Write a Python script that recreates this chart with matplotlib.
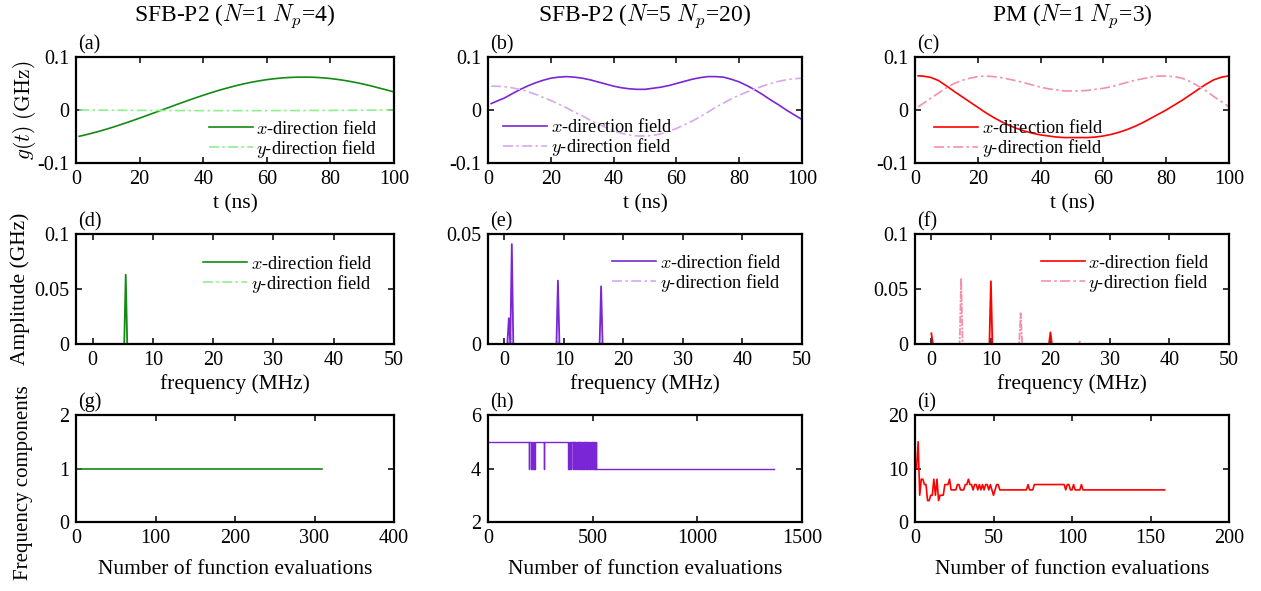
import numpy as np
import matplotlib
matplotlib.use('Agg')
import matplotlib.pyplot as plt

plt.rcParams['font.family'] = 'serif'
plt.rcParams['font.serif'] = ['Liberation Serif', 'DejaVu Serif']
plt.rcParams['mathtext.fontset'] = 'cm'
plt.rcParams['font.size'] = 14.5

# ---------------- data ----------------
# time traces (t in ns, g in GHz)
t_ns = [1, 2.5, 5, 7.5, 10, 12.5, 15, 17.5, 20, 22.5, 25, 27.5, 30, 32.5, 35, 37.5, 40, 42.5, 45, 47.5,
        50, 52.5, 55, 57.5, 60, 62.5, 65, 67.5, 70, 72.5, 75, 77.5, 80, 82.5, 85, 87.5, 90, 92.5, 95,
        97.5, 100]
a_x = [-0.0496, -0.0476, -0.0438, -0.0398, -0.0354, -0.0307, -0.0257, -0.0206, -0.0153, -0.0099,
       -0.0044, 0.0011, 0.0066, 0.0121, 0.0175, 0.0227, 0.0278, 0.0326, 0.0372, 0.0414, 0.0454,
       0.0490, 0.0522, 0.0549, 0.0573, 0.0591, 0.0606, 0.0615, 0.0620, 0.0620, 0.0617, 0.0607,
       0.0594, 0.0575, 0.0552, 0.0525, 0.0494, 0.0459, 0.0420, 0.0381, 0.0340]
a_y = [0.0, -0.0001, -0.0002, -0.0003, -0.0004, -0.0005, -0.0006, -0.0007, -0.0008, -0.0008,
       -0.0009, -0.0010, -0.0010, -0.0011, -0.0011, -0.0012, -0.0012, -0.0012, -0.0012, -0.0012,
       -0.0012, -0.0012, -0.0012, -0.0012, -0.0012, -0.0011, -0.0011, -0.0010, -0.0010, -0.0009,
       -0.0009, -0.0008, -0.0008, -0.0007, -0.0006, -0.0005, -0.0004, -0.0003, -0.0002, -0.0001, 0.0]
b_x = [0.012, 0.016, 0.022, 0.030, 0.038, 0.045, 0.051, 0.056, 0.060, 0.062, 0.063, 0.062, 0.060,
       0.057, 0.053, 0.049, 0.045, 0.042, 0.040, 0.039, 0.039, 0.041, 0.043, 0.046, 0.050, 0.054,
       0.058, 0.061, 0.063, 0.063, 0.062, 0.058, 0.053, 0.046, 0.038, 0.029, 0.019, 0.010, 0.000,
       -0.009, -0.018]
b_y = [0.045, 0.045, 0.044, 0.042, 0.039, 0.035, 0.030, 0.024, 0.018, 0.011, 0.004, -0.004, -0.011,
       -0.019, -0.026, -0.033, -0.039, -0.044, -0.047, -0.049, -0.049, -0.048, -0.045, -0.040,
       -0.035, -0.028, -0.021, -0.013, -0.004, 0.005, 0.013, 0.021, 0.028, 0.034, 0.040, 0.045,
       0.050, 0.054, 0.057, 0.059, 0.060]
c_x = [0.0645, 0.0640, 0.0615, 0.0555, 0.0455, 0.035, 0.025, 0.015, 0.005, -0.005, -0.014, -0.022,
       -0.029, -0.035, -0.040, -0.044, -0.047, -0.049, -0.051, -0.052, -0.052, -0.052, -0.052,
       -0.051, -0.049, -0.046, -0.042, -0.037, -0.031, -0.024, -0.016, -0.008, 0.000, 0.009, 0.018,
       0.028, 0.038, 0.048, 0.0565, 0.0618, 0.0645]
c_y = [0.006, 0.012, 0.022, 0.032, 0.042, 0.050, 0.056, 0.060, 0.063, 0.064, 0.063, 0.061, 0.058,
       0.055, 0.051, 0.047, 0.043, 0.040, 0.038, 0.036, 0.036, 0.036, 0.037, 0.039, 0.041, 0.044,
       0.048, 0.052, 0.056, 0.059, 0.062, 0.064, 0.064, 0.063, 0.060, 0.054, 0.046, 0.037, 0.026,
       0.016, 0.006]

# spectra (frequency in MHz, amplitude in GHz), non-zero bins only
freq_max = 25.0
freq_step = 0.25
d_x_f, d_x_amp = [5.5], [0.063]
d_y_f, d_y_amp = [], []
e_x_f, e_x_amp = [0.75, 1.25, 9.0, 16.25], [0.0117, 0.0454, 0.0288, 0.0262]
e_y_f, e_y_amp = [1.0, 9.0, 16.5], [0.0043, 0.0010, 0.0010]
f_x_f, f_x_amp = [0.0, 10.0, 20.0], [0.0097, 0.057, 0.0106]
f_y_f, f_y_amp = [5.0, 15.0, 25.0], [0.060, 0.028, 0.003]

# number of frequency components vs function evaluations
g_evals = [1, 309]
g_count = [1, 1]

h_start_count = 5
h_dip_start = [194, 206, 213, 216, 219, 222, 266, 380, 384, 388, 392, 396, 405, 410, 414, 421, 425,
               429, 434, 438, 442, 446, 451, 457, 461, 466, 470, 474, 478, 484, 488, 492, 497, 502,
               507, 512, 518]
h_dip_end = [196, 208, 215, 218, 221, 224, 268, 382, 386, 390, 394, 398, 407, 412, 416, 423, 427,
             431, 436, 440, 444, 448, 453, 459, 463, 468, 472, 476, 480, 486, 490, 494, 499, 504,
             509, 514, 1365]

i_evals = [1, 2, 3, 4, 5, 6, 7, 8, 9, 10, 11, 12, 13, 14, 15, 16, 17, 18, 19, 20, 21, 22, 23, 24, 25,
           26, 27, 28, 29, 30, 31, 32, 33, 34, 35, 36, 37, 38, 39, 40, 41, 42, 43, 44, 45, 46, 47, 48,
           49, 50, 51, 52, 53, 54, 71, 72, 73, 75, 76, 95, 96, 97, 98, 99, 100, 101, 102, 105, 106,
           107, 159]
i_count = [10, 15, 5, 8, 8, 7, 7, 4, 4, 5, 5, 8, 5, 8, 4, 5, 5, 5, 7, 7, 7, 8, 6, 6, 6,
           6, 7, 7, 6, 6, 6, 7, 7, 8, 7, 7, 6, 7, 7, 6, 7, 6, 7, 6, 7, 7, 6, 7,
           6, 5, 6, 7, 7, 6, 6, 7, 6, 6, 7, 7, 6, 7, 7, 6, 6, 7, 6, 6, 7,
           6, 6]

# ---------------- colours ----------------
green, lgreen = '#138a13', '#8fef8f'
purple, lpurple = '#7b26d6', '#d6a8f2'
red, pink = '#ff0000', '#f590ab'


def spectrum(peak_f, peak_amp):
    f = np.arange(0, freq_max + freq_step / 2, freq_step)
    amp = np.zeros_like(f)
    for pf, pa in zip(peak_f, peak_amp):
        amp[np.argmin(np.abs(f - pf))] = pa
    return f, amp


# ---------------- figure ----------------
W, H = 1261.0, 591.0
fig = plt.figure(figsize=(W / 100, H / 100), dpi=100)

cols = [(76, 394), (488, 802), (915, 1229)]
rows = [(57, 163), (234, 344), (415, 522)]


def make_ax(r, c):
    l, rr = cols[c]
    t, b = rows[r]
    ax = fig.add_axes([l / W, 1 - b / H, (rr - l) / W, (b - t) / H])
    for s in ax.spines.values():
        s.set_linewidth(1.6)
    ax.tick_params(direction='in', top=True, right=True, length=4, width=1.1, labelsize=14.5, pad=5)
    return ax


axes = [[make_ax(r, c) for c in range(3)] for r in range(3)]
letters = 'abcdefghi'
for r in range(3):
    for c in range(3):
        axes[r][c].annotate('(%s)' % letters[3 * r + c], xy=(0, 1), xycoords='axes fraction',
                            xytext=(2, 8), textcoords='offset pixels', va='baseline', ha='left',
                            fontsize=14.5)

lab_x = r'$x$-direction field'
lab_y = r'$y$-direction field'
leg_kw = dict(frameon=False, fontsize=13.2, handlelength=2.4, handletextpad=0.2,
              labelspacing=0.0, borderpad=0, borderaxespad=0)
dash = (0, (6, 2, 1.5, 2))
dash_fine = (0, (4, 0.8, 1.2, 0.8))

# row 1: time traces
for ax, xs, ys, cx, cy in [(axes[0][0], a_x, a_y, green, lgreen),
                           (axes[0][1], b_x, b_y, purple, lpurple),
                           (axes[0][2], c_x, c_y, red, pink)]:
    ax.plot(t_ns, xs, color=cx, lw=1.2, label=lab_x)
    ax.plot(t_ns, ys, color=cy, lw=1.2, ls=dash, label=lab_y)
    ax.set_xlim(0, 100)
    ax.set_ylim(-0.1, 0.1)
    ax.set_xticks([0, 20, 40, 60, 80, 100])
    ax.set_yticks([-0.1, 0, 0.1])
    ax.set_yticklabels(['-0.1', '0', '0.1'])
    ax.set_xlabel('t (ns)', fontsize=15.5, labelpad=4)

axes[0][0].legend(loc='lower right', bbox_to_anchor=(0.95, 0.03), **leg_kw)
axes[0][1].legend(loc='lower left', bbox_to_anchor=(0.048, 0.045), **leg_kw)
axes[0][2].legend(loc='lower left', bbox_to_anchor=(0.06, 0.035), **leg_kw)
axes[0][0].set_ylabel(r'$g(t)$ $\mathrm{(GHz)}$', fontsize=15.5)
axes[0][0].yaxis.set_label_coords(-0.12, 0.5)

axes[0][0].set_title(r'SFB-P2 ($N$=1 $N_p$=4)', fontsize=17, pad=26)
axes[0][1].set_title(r'SFB-P2 ($N$=5 $N_p$=20)', fontsize=17, pad=26)
axes[0][2].set_title(r'PM ($N$=1 $N_p$=3)', fontsize=17, pad=26)

# row 2: spectra
spec = [(axes[1][0], d_x_f, d_x_amp, d_y_f, d_y_amp, green, lgreen, 0.1, (0.934, 0.81)),
        (axes[1][1], e_x_f, e_x_amp, e_y_f, e_y_amp, purple, lpurple, 0.05, (0.936, 0.82)),
        (axes[1][2], f_x_f, f_x_amp, f_y_f, f_y_amp, red, pink, 0.1, (0.94, 0.82))]
for ax, xf, xa, yf, ya, cx, cy, ytop, anchor in spec:
    f1, a1 = spectrum(xf, xa)
    f2, a2 = spectrum(yf, ya)
    ax.plot(f2, a2, color=cy, lw=1.3, ls=dash_fine)
    ax.plot(f1, a1, color=cx, lw=1.3)
    ax.plot([], [], color=cx, lw=1.2, label=lab_x)
    ax.plot([], [], color=cy, lw=1.2, ls=dash, label=lab_y)
    ax.set_xlim(-2.75, 50)
    ax.set_ylim(0, ytop)
    ax.set_xticks([0, 10, 20, 30, 40, 50])
    if ytop == 0.1:
        ax.set_yticks([0, 0.05, 0.1])
        ax.set_yticklabels(['0', '0.05', '0.1'])
    else:
        ax.set_yticks([0, 0.05])
        ax.set_yticklabels(['0', '0.05'])
    ax.set_xlabel('frequency (MHz)', fontsize=15.5, labelpad=3)
    ax.legend(loc='upper right', bbox_to_anchor=anchor, **leg_kw)

axes[1][0].set_ylabel('Amplitude (GHz)', fontsize=15.5)
axes[1][0].yaxis.set_label_coords(-0.145, 0.5)

# row 3: frequency components
ax = axes[2][0]
ax.plot(g_evals, g_count, color=green, lw=1.2)
ax.set_xlim(0, 400)
ax.set_ylim(0, 2)
ax.set_xticks([0, 100, 200, 300, 400])
ax.set_yticks([0, 1, 2])

h_x, h_y = [1], [h_start_count]
for s, e in zip(h_dip_start, h_dip_end):
    if e == h_dip_end[-1]:
        h_x += [s, s, e]
        h_y += [5, 4, 4]
    else:
        h_x += [s, s, e, e]
        h_y += [5, 4, 4, 5]
ax = axes[2][1]
ax.plot(h_x, h_y, color=purple, lw=1.0)
ax.set_xlim(0, 1500)
ax.set_ylim(2, 6)
ax.set_xticks([0, 500, 1000, 1500])
ax.set_yticks([2, 4, 6])

ax = axes[2][2]
ax.plot(i_evals, i_count, color=red, lw=1.2)
ax.set_xlim(0, 200)
ax.set_ylim(0, 20)
ax.set_xticks([0, 50, 100, 150, 200])
ax.set_yticks([0, 10, 20])

for ax in axes[2]:
    ax.set_xlabel('Number of function evaluations', fontsize=15.5, labelpad=9)
axes[2][0].set_ylabel('Frequency components', fontsize=15)
axes[2][0].yaxis.set_label_coords(-0.135, 0.37)

fig.savefig('out.png', dpi=100)
